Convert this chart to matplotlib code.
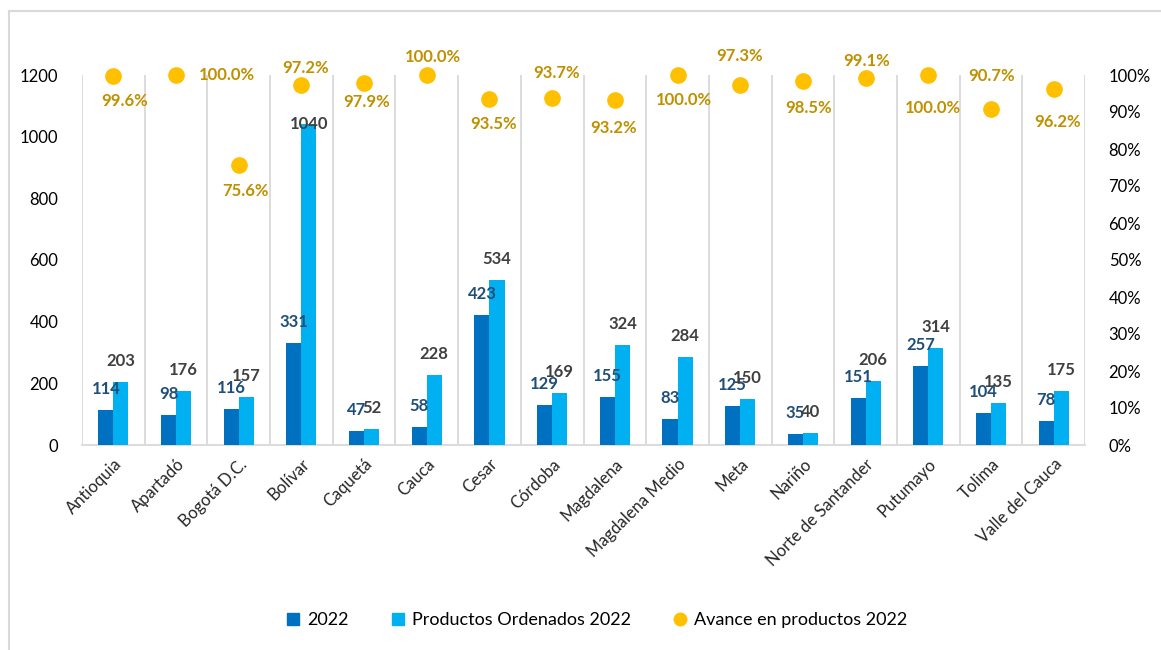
import matplotlib
matplotlib.use("Agg")
import matplotlib.pyplot as plt
import matplotlib.transforms as mtransforms
from matplotlib.lines import Line2D
from matplotlib.ticker import PercentFormatter
import numpy as np

plt.rcParams['font.family'] = ['Lato', 'DejaVu Sans']

# data
regiones = ['Antioquia', 'Apartadó', 'Bogotá D.C.', 'Bolívar', 'Caquetá', 'Cauca',
            'Cesar', 'Córdoba', 'Magdalena', 'Magdalena Medio', 'Meta', 'Nariño',
            'Norte de Santander', 'Putumayo', 'Tolima', 'Valle del Cauca']
prod_2022 = [114, 98, 116, 331, 47, 58, 423, 129, 155, 83, 125, 35, 151, 257, 104, 78]
prod_ordenados = [203, 176, 157, 1040, 52, 228, 534, 169, 324, 284, 150, 40, 206, 314, 135, 175]
avance = [99.6, 100.0, 75.6, 97.2, 97.9, 100.0, 93.5, 93.7, 93.2, 100.0, 97.3, 98.5,
          99.1, 100.0, 90.7, 96.2]

# label offsets (pixels) for the percent labels, as placed in the original
pct_dx = [11, 51, 7, 4, 3, 6, 4, 4, -1, 6, -1, 6, 1, 5, 1, 4]
pct_dy = [-25, 0, -26, 17, -19, 18, -25, 25, -28, -25, 29, -27, 17, -33, 33, -33]

c_dark = '#0070C0'
c_light = '#00B0F0'
c_dot = '#FFC000'
c_pct = '#BF9000'
grid_c = '#D9D9D9'

fig = plt.figure(figsize=(11.61, 6.5), dpi=100)
ax = fig.add_axes([82/1161, 1-445/650, (1085-82)/1161, (445-75)/650])

x = np.arange(len(regiones))
w = 0.24
b1 = ax.bar(x - 0.12, prod_2022, w, color=c_dark, zorder=3)
b2 = ax.bar(x + 0.12, prod_ordenados, w, color=c_light, zorder=3)

for r, v in zip(b1, prod_2022):
    ax.annotate(str(v), (r.get_x() + r.get_width()/2, v), xytext=(0, 21),
                textcoords='offset pixels', ha='center', va='center',
                fontsize=12, fontweight='bold', color='#1F4E79', zorder=5)
for r, v in zip(b2, prod_ordenados):
    off = 0 if v > 1000 else 21
    ax.annotate(str(v), (r.get_x() + r.get_width()/2, v), xytext=(0, off),
                textcoords='offset pixels', ha='center', va='center',
                fontsize=12, fontweight='bold', color='#404040', zorder=5)

ax.set_xlim(-0.5, len(regiones) - 0.5)
ax.set_ylim(0, 1200)
ax.set_yticks(range(0, 1201, 200))
ax.set_xticks(x)
ax.set_xticklabels(regiones, rotation=45, ha='right', rotation_mode='anchor',
                   fontsize=12, color='#262626')
shift = mtransforms.ScaledTranslation(7/100, -4/100, fig.dpi_scale_trans)
for lab in ax.get_xticklabels():
    lab.set_transform(lab.get_transform() + shift)
ax.set_xticks(np.arange(-0.5, len(regiones), 1), minor=True)
ax.grid(which='minor', axis='x', color=grid_c, lw=1.3, zorder=0)
ax.tick_params(axis='x', which='both', length=0, pad=8)
ax.tick_params(axis='y', length=0, pad=17, labelsize=12)
for s in ['top', 'right', 'left']:
    ax.spines[s].set_visible(False)
ax.spines['bottom'].set_color(grid_c)
ax.spines['bottom'].set_linewidth(1.3)

ax2 = ax.twinx()
ax2.set_ylim(0, 1)
ax2.set_yticks(np.arange(0, 1.01, 0.1))
ax2.yaxis.set_major_formatter(PercentFormatter(1.0, decimals=0))
ax2.tick_params(axis='y', length=0, pad=17, labelsize=12)
for s in ax2.spines.values():
    s.set_visible(False)
ax2.plot(x, np.array(avance)/100, 'o', color=c_dot, ms=11, clip_on=False, zorder=4)
for i, p in enumerate(avance):
    ax2.annotate(f'{p:.1f}%', (x[i], p/100), xytext=(pct_dx[i], pct_dy[i]),
                 textcoords='offset pixels', ha='center', va='center',
                 fontsize=12, fontweight='bold', color=c_pct, annotation_clip=False)

handles = [Line2D([], [], marker='s', ls='', color=c_dark, ms=9),
           Line2D([], [], marker='s', ls='', color=c_light, ms=9),
           Line2D([], [], marker='o', ls='', color=c_dot, ms=9)]
fig.legend(handles, ['2022', 'Productos Ordenados 2022', 'Avance en productos 2022'],
           loc='center', bbox_to_anchor=(0.513, 1-620/650), ncol=3, frameon=False,
           fontsize=13, handletextpad=0.3, columnspacing=2.2, handlelength=1.0)

# chart frame lines
fig.add_artist(Line2D([9/1161, 9/1161], [0, 1-11/650], color=grid_c, lw=1.5))
fig.add_artist(Line2D([9/1161, 1], [1-11/650, 1-11/650], color=grid_c, lw=1.5))

fig.savefig('out.png', dpi=100)
